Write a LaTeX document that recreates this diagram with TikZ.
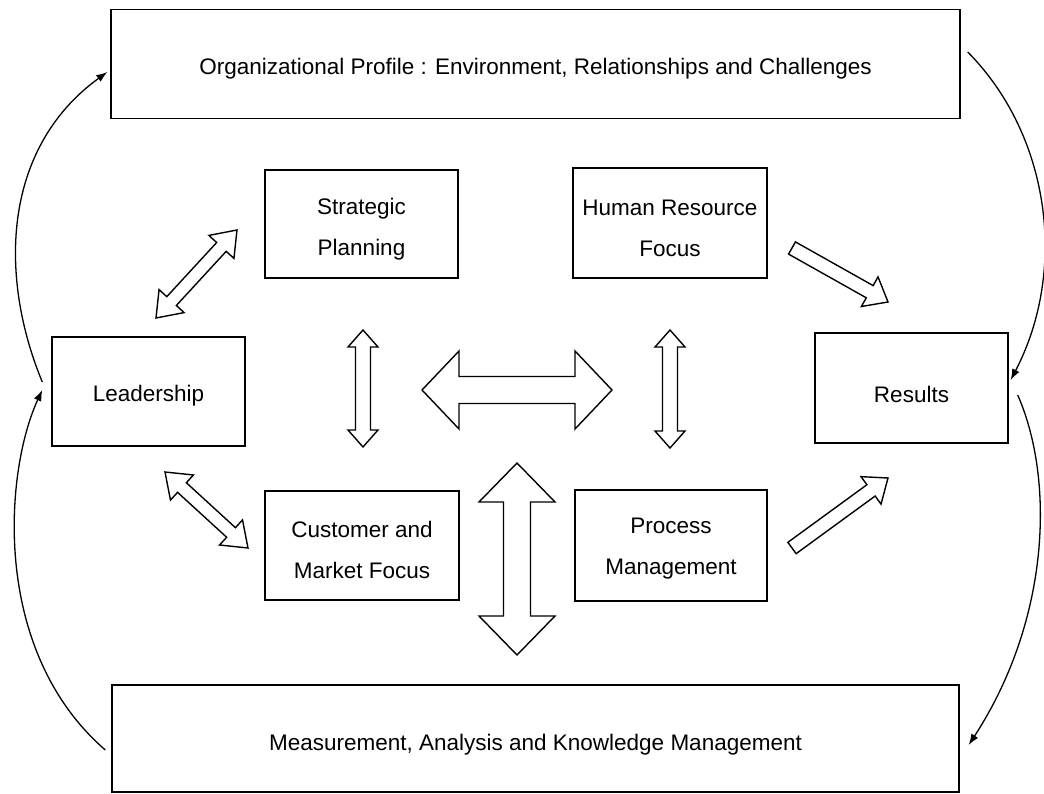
\documentclass[tikz,border=0pt]{standalone}
\usepackage{fontspec}
\setmainfont{Liberation Sans}
\usetikzlibrary{calc,arrows.meta}
\tikzset{
  box/.style={draw=black, line width=1.4pt, inner sep=0pt},
  lbl/.style={inner sep=0pt, align=center, font=\fontsize{22.5}{41}\selectfont},
  blk/.style={draw=black, line width=1.4pt, fill=white, line join=miter},
  flow/.style={draw=black, line width=1.3pt, -{Latex[length=11pt,width=8pt]}},
}
% double block arrow: #1 end A, #2 end B, #3 shaft half width, #4 head half width, #5 head length
\newcommand\dblarrow[5]{%
  \draw[blk] (#1) -- ($(#1)!#5!(#2)!#4!90:(#2)$) -- ($(#1)!#5!(#2)!#3!90:(#2)$)
    -- ($(#2)!#5!(#1)!#3!-90:(#1)$) -- ($(#2)!#5!(#1)!#4!-90:(#1)$) -- (#2)
    -- ($(#2)!#5!(#1)!#4!90:(#1)$) -- ($(#2)!#5!(#1)!#3!90:(#1)$)
    -- ($(#1)!#5!(#2)!#3!-90:(#2)$) -- ($(#1)!#5!(#2)!#4!-90:(#2)$) -- cycle;}
% single block arrow: #1 tail, #2 tip
\newcommand\sglarrow[5]{%
  \draw[blk] ($(#1)!#3!90:(#2)$) -- ($(#2)!#5!(#1)!#3!-90:(#1)$) -- ($(#2)!#5!(#1)!#4!-90:(#1)$)
    -- (#2) -- ($(#2)!#5!(#1)!#4!90:(#1)$) -- ($(#2)!#5!(#1)!#3!90:(#1)$)
    -- ($(#1)!#3!-90:(#2)$) -- cycle;}
\begin{document}
\begin{tikzpicture}[x=1pt,y=-1pt]
\useasboundingbox[fill=white] (0,0) rectangle (1044,794);

% boxes
\node[box, minimum width=849pt, minimum height=109pt] (top) at (535.5,64) {};
\node[box, minimum width=847pt, minimum height=107pt] (bot) at (535.5,738.5) {};
\node[box, minimum width=193pt, minimum height=108pt] (sp) at (361.5,224) {};
\node[box, minimum width=194pt, minimum height=110pt] (hr) at (670,223) {};
\node[box, minimum width=193pt, minimum height=109pt] (lead) at (148.5,391.5) {};
\node[box, minimum width=193pt, minimum height=110pt] (res) at (911.5,388) {};
\node[box, minimum width=194pt, minimum height=109pt] (cust) at (362,545.5) {};
\node[box, minimum width=192pt, minimum height=111pt] (pm) at (671,545.5) {};

% box texts
\node[lbl] (topt) at ($(top.center)+(0,5)$) {Organizational Profile : Environment, Relationships and Challenges};
\node[lbl] (bott) at ($(bot.center)+(0,6)$) {Measurement, Analysis and Knowledge Management};
\node[lbl] (spt) at ($(sp.center)+(0,5)$) {Strategic\\Planning};
\node[lbl] (hrt) at ($(hr.center)+(0,5)$) {Human Resource\\Focus};
\node[lbl] (leadt) at ($(lead.center)+(0,4)$) {Leadership};
\node[lbl] (rest) at ($(res.center)+(0,6)$) {Results};
\node[lbl] (custt) at ($(cust.center)+(0,4)$) {Customer and\\Market Focus};
\node[lbl] (pmt) at ($(pm.center)+(0,3)$) {Process\\Management};

% block arrow end points
\coordinate (a1) at (156,318); \coordinate (b1) at (237,230);
\coordinate (a2) at (165,472); \coordinate (b2) at (248,548);
\coordinate (a3) at (363,330); \coordinate (b3) at (363,447);
\coordinate (a4) at (422,390); \coordinate (b4) at (612,390);
\coordinate (a5) at (517,463); \coordinate (b5) at (517,655);
\coordinate (a6) at (670,330); \coordinate (b6) at (670,448);
\coordinate (a7) at (792,248); \coordinate (b7) at (888,302);
\coordinate (a8) at (792,548); \coordinate (b8) at (888,478);

\dblarrow{a1}{b1}{6.5pt}{17pt}{23pt}
\dblarrow{a2}{b2}{6.5pt}{17pt}{23pt}
\dblarrow{a3}{b3}{7.5pt}{15pt}{17pt}
\dblarrow{a4}{b4}{13.5pt}{39pt}{37pt}
\dblarrow{a5}{b5}{13.5pt}{38pt}{39pt}
\dblarrow{a6}{b6}{7.5pt}{15pt}{17pt}
\sglarrow{a7}{b7}{7pt}{17pt}{21pt}
\sglarrow{a8}{b8}{7pt}{17pt}{21pt}

% curved feedback arrows
\draw[flow] ($(lead.west)+(-9,-9.5)$) .. controls (0,280) and (0,150) .. ($(top.west)+(-3,8)$);
\draw[flow] ($(bot.west)+(-6,11.5)$) .. controls (-10,650) and (5,470) .. ($(lead.west)+(-9,-1.5)$);
\draw[flow] ($(top.east)+(7,-12)$) .. controls (1050,135) and (1068,270) .. ($(res.east)+(2,-8)$);
\draw[flow] ($(res.east)+(9,7)$) .. controls (1055,480) and (1050,620) .. ($(bot.east)+(9,6.5)$);
\end{tikzpicture}
\end{document}
